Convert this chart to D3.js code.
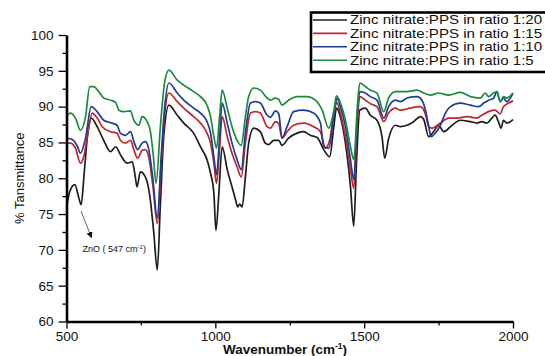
<!DOCTYPE html>
<html>
<head>
<meta charset="utf-8">
<script src="https://cdn.jsdelivr.net/npm/d3@7"></script>
<style>
  body { margin: 0; background: #fff; }
  svg text { font-family: "Liberation Sans", Arial, sans-serif; fill: #111; }
</style>
</head>
<body>
<div id="chart"></div>
<script>
// ---- data ----
const seriesNames = [
  "Zinc nitrate:PPS in ratio 1:20",
  "Zinc nitrate:PPS in ratio 1:15",
  "Zinc nitrate:PPS in ratio 1:10",
  "Zinc nitrate:PPS in ratio 1:5"
];
const seriesColors = ["#1e1e1e", "#c0262c", "#1f3c96", "#1b8a3c"];

// 1:20 (black)
const wn20 = [500, 510, 528, 540, 549, 560, 572, 583, 603, 625, 648, 665, 681, 704, 721, 730, 737, 748, 765, 780, 793, 805, 815, 827, 844, 872, 894, 927, 950, 972, 984, 995, 1002, 1012, 1023, 1040, 1056, 1068, 1075, 1082, 1090, 1101, 1112, 1129, 1151, 1168, 1179, 1196, 1213, 1224, 1246, 1275, 1297, 1319, 1342, 1364, 1384, 1398, 1407, 1420, 1437, 1454, 1465, 1474, 1485, 1504, 1521, 1543, 1560, 1569, 1582, 1605, 1622, 1644, 1666, 1689, 1700, 1717, 1733, 1750, 1767, 1790, 1823, 1857, 1879, 1895, 1912, 1929, 1940, 1951, 1960, 1968, 1979, 2000];
const t20 = [75.8, 78.0, 79.1, 77.5, 76.3, 81.0, 86.5, 88.4, 87.2, 85.3, 83.7, 84.4, 83.3, 82.1, 82.3, 80.5, 78.8, 80.9, 80.2, 77.5, 72.5, 67.2, 76.0, 86.0, 90.2, 88.8, 87.7, 86.3, 84.4, 82.6, 80.7, 78.0, 72.7, 78.0, 84.4, 81.2, 78.8, 77.0, 76.0, 76.4, 76.0, 80.2, 84.9, 87.0, 86.5, 84.9, 84.7, 85.3, 85.3, 84.6, 85.6, 86.3, 86.5, 86.0, 85.7, 84.0, 83.0, 87.2, 89.8, 88.6, 84.9, 78.8, 73.3, 82.0, 89.5, 89.8, 88.8, 88.1, 85.8, 82.8, 85.5, 87.4, 87.2, 87.4, 87.9, 88.6, 88.2, 85.8, 86.5, 87.4, 86.5, 87.2, 88.1, 87.9, 87.7, 87.9, 87.7, 88.4, 88.8, 87.9, 87.0, 88.1, 87.7, 88.2];

// 1:15 (red)
const wn15 = [500, 513, 530, 547, 558, 570, 586, 603, 620, 648, 670, 681, 698, 715, 726, 739, 754, 765, 776, 790, 805, 818, 830, 844, 872, 894, 927, 950, 972, 984, 995, 1004, 1014, 1023, 1040, 1056, 1073, 1087, 1101, 1118, 1135, 1151, 1174, 1185, 1202, 1213, 1224, 1241, 1263, 1297, 1330, 1353, 1370, 1384, 1398, 1407, 1420, 1437, 1454, 1465, 1476, 1485, 1504, 1521, 1543, 1566, 1582, 1605, 1622, 1655, 1689, 1706, 1717, 1728, 1756, 1784, 1812, 1846, 1879, 1895, 1918, 1940, 1957, 1968, 1985, 2000];
const t15 = [84.9, 84.9, 84.2, 82.1, 83.0, 85.8, 89.1, 88.4, 87.2, 86.5, 86.3, 85.3, 84.9, 85.3, 84.0, 82.8, 83.9, 84.0, 83.0, 79.0, 73.7, 82.0, 89.0, 91.9, 90.7, 89.8, 88.6, 87.7, 86.3, 84.9, 82.1, 79.3, 84.0, 88.6, 85.8, 83.5, 81.6, 80.2, 84.9, 89.1, 89.3, 89.1, 87.2, 87.0, 87.9, 87.6, 85.6, 86.5, 87.4, 87.7, 87.2, 86.5, 84.2, 85.3, 89.1, 90.6, 89.1, 85.8, 81.2, 78.6, 87.2, 91.4, 90.9, 90.4, 90.0, 87.9, 89.1, 89.8, 89.5, 89.8, 90.0, 88.9, 87.2, 87.0, 87.7, 88.4, 88.4, 88.6, 88.4, 88.8, 89.3, 89.5, 89.0, 90.0, 90.5, 90.8];

// 1:10 (blue)
const wn10 = [500, 519, 536, 547, 564, 583, 603, 625, 653, 670, 681, 698, 715, 728, 739, 754, 765, 776, 790, 805, 818, 830, 844, 872, 894, 927, 950, 972, 984, 995, 1004, 1014, 1023, 1040, 1056, 1073, 1087, 1101, 1118, 1135, 1151, 1174, 1185, 1202, 1213, 1224, 1241, 1263, 1297, 1330, 1353, 1364, 1381, 1398, 1409, 1420, 1437, 1454, 1465, 1478, 1485, 1504, 1521, 1543, 1566, 1582, 1605, 1622, 1644, 1678, 1694, 1706, 1717, 1725, 1739, 1756, 1773, 1790, 1823, 1857, 1885, 1902, 1918, 1935, 1946, 1957, 1968, 1979, 2000];
const t10 = [85.6, 85.4, 84.5, 83.5, 85.6, 90.0, 89.3, 88.1, 87.7, 87.4, 86.3, 86.0, 86.5, 84.9, 84.0, 84.9, 85.1, 84.1, 80.0, 74.4, 83.0, 90.0, 93.3, 91.9, 90.9, 89.8, 89.1, 87.9, 86.3, 83.0, 80.5, 85.5, 90.5, 87.7, 84.9, 82.6, 81.2, 86.3, 90.5, 90.7, 90.5, 88.8, 88.5, 89.4, 89.0, 85.6, 87.2, 89.3, 89.5, 89.1, 87.7, 84.4, 84.2, 88.6, 91.2, 90.0, 87.2, 82.6, 79.8, 89.5, 92.1, 91.9, 91.4, 90.9, 88.4, 90.0, 90.9, 90.7, 91.2, 91.4, 90.9, 89.5, 87.2, 85.8, 86.3, 87.4, 89.1, 90.0, 90.5, 90.2, 90.0, 90.5, 90.9, 91.2, 92.1, 90.7, 91.2, 90.7, 91.9];

// 1:5 (green)
const wn5 = [500, 513, 530, 547, 564, 578, 592, 608, 625, 648, 665, 676, 692, 715, 726, 743, 754, 771, 782, 792, 801, 815, 830, 844, 872, 894, 927, 950, 972, 984, 995, 1004, 1014, 1023, 1040, 1056, 1073, 1087, 1101, 1112, 1129, 1151, 1174, 1185, 1202, 1213, 1224, 1246, 1275, 1308, 1336, 1359, 1381, 1398, 1407, 1420, 1437, 1454, 1465, 1478, 1485, 1504, 1521, 1543, 1566, 1582, 1605, 1644, 1678, 1700, 1722, 1750, 1784, 1823, 1857, 1890, 1907, 1918, 1935, 1946, 1957, 1968, 1979, 2000];
const t5 = [88.6, 89.1, 88.4, 86.7, 88.6, 92.8, 92.8, 92.1, 91.2, 90.9, 90.6, 89.5, 89.3, 89.4, 88.1, 87.4, 88.6, 87.9, 86.5, 83.0, 79.3, 87.0, 93.5, 95.1, 93.7, 93.0, 92.1, 91.4, 90.2, 88.6, 85.8, 84.2, 88.5, 92.3, 89.8, 87.2, 85.3, 84.6, 88.6, 91.4, 92.6, 92.3, 91.2, 90.9, 91.2, 91.0, 90.2, 90.9, 91.4, 91.4, 90.9, 89.5, 87.0, 89.4, 91.5, 90.5, 88.1, 84.4, 82.6, 90.5, 93.3, 92.8, 92.3, 91.9, 89.3, 91.2, 92.1, 92.1, 92.3, 91.9, 91.6, 91.9, 91.6, 92.0, 91.4, 91.2, 91.9, 91.4, 91.9, 92.1, 90.7, 91.4, 91.2, 91.9];

const xTicks = [500, 1000, 1500, 2000];
const xMinor = [750, 1250, 1750];
const yTicks = [60, 65, 70, 75, 80, 85, 90, 95, 100];
const yMinor = [62.5, 67.5, 72.5, 77.5, 82.5, 87.5, 92.5, 97.5];

// annotation: arrow from the 547 dip down to the label
const noteFrom = [549, 75.4];
const noteTo = [584, 71.7];
const noteAt = [554, 69.7];

// ---- drawing ----
const W = 545, H = 356;
const margin = { top: 35, right: 32, bottom: 34.5, left: 66.5 };

const svg = d3.select("#chart").append("svg")
  .attr("width", W)
  .attr("height", H);

const x = d3.scaleLinear().domain([500, 2000]).range([margin.left, W - margin.right]);
const y = d3.scaleLinear().domain([60, 100]).range([H - margin.bottom, margin.top]);

const data = [
  wn20.map((w, i) => [w, t20[i]]),
  wn15.map((w, i) => [w, t15[i]]),
  wn10.map((w, i) => [w, t10[i]]),
  wn5.map((w, i) => [w, t5[i]])
];

const line = d3.line()
  .x(d => x(d[0]))
  .y(d => y(d[1]))
  .curve(d3.curveMonotoneX);

svg.append("g")
  .selectAll("path")
  .data(data)
  .enter()
  .append("path")
  .attr("d", line)
  .attr("fill", "none")
  .attr("stroke", (d, i) => seriesColors[i])
  .attr("stroke-width", 1.7)
  .attr("stroke-linejoin", "round");

// axes
svg.append("g")
  .attr("transform", `translate(0,${y(60)})`)
  .call(d3.axisBottom(x).tickValues(xTicks).tickFormat(d3.format("d"))
    .tickSize(7).tickSizeOuter(0).tickPadding(3));
svg.append("g")
  .attr("transform", `translate(0,${y(60)})`)
  .call(d3.axisBottom(x).tickValues(xMinor).tickSize(4).tickFormat(""))
  .select(".domain").remove();

svg.append("g")
  .attr("transform", `translate(${x(500)},0)`)
  .call(d3.axisLeft(y).tickValues(yTicks).tickSize(8).tickSizeOuter(0).tickPadding(5));
svg.append("g")
  .attr("transform", `translate(${x(500)},0)`)
  .call(d3.axisLeft(y).tickValues(yMinor).tickSize(4).tickFormat(""))
  .select(".domain").remove();

svg.selectAll(".domain").attr("stroke", "#000").attr("stroke-width", 2.6);
svg.selectAll(".tick line").attr("stroke", "#000").attr("stroke-width", 1.3);
svg.selectAll(".tick text")
  .style("font-size", "13.5px")
  .style("font-family", "'Liberation Sans', Arial, sans-serif")
  .attr("fill", "#111");

// axis titles
svg.append("text")
  .attr("transform", `translate(24,${(y(60) + y(100)) / 2}) rotate(-90)`)
  .attr("text-anchor", "middle")
  .style("font-size", "13px")
  .text("% Tansmittance");

const xt = svg.append("text")
  .attr("x", 285)
  .attr("y", 354)
  .attr("text-anchor", "middle")
  .style("font-size", "13.5px")
  .style("font-weight", "bold");
xt.append("tspan").text("Wavenumber (cm");
xt.append("tspan").attr("dy", -5).style("font-size", "8.5px").text("-1");
xt.append("tspan").attr("dy", 5).text(")");

// annotation
svg.append("defs").append("marker")
  .attr("id", "arr")
  .attr("viewBox", "0 0 10 10")
  .attr("refX", 9).attr("refY", 5)
  .attr("markerWidth", 7).attr("markerHeight", 7)
  .attr("orient", "auto")
  .append("path")
  .attr("d", "M0,0L10,5L0,10z")
  .attr("fill", "#111");

svg.append("line")
  .attr("x1", x(noteFrom[0])).attr("y1", y(noteFrom[1]))
  .attr("x2", x(noteTo[0])).attr("y2", y(noteTo[1]))
  .attr("stroke", "#555")
  .attr("stroke-width", 0.9)
  .attr("marker-end", "url(#arr)");

const note = svg.append("text")
  .attr("x", x(noteAt[0]))
  .attr("y", y(noteAt[1]))
  .style("font-size", "9px");
note.append("tspan").text("ZnO ( 547 cm");
note.append("tspan").attr("dy", -3).style("font-size", "6px").text("-1");
note.append("tspan").attr("dy", 3).text(")");

// legend
const lg = svg.append("g");
lg.append("rect")
  .attr("x", 311).attr("y", 12.5)
  .attr("width", 250).attr("height", 59.5)
  .attr("fill", "#fff")
  .attr("stroke", "#000")
  .attr("stroke-width", 2.6);

const rows = lg.selectAll("g.row")
  .data(seriesNames)
  .enter()
  .append("g")
  .attr("class", "row")
  .attr("transform", (d, i) => `translate(0,${20 + i * 13.4})`);

rows.append("line")
  .attr("x1", 313).attr("x2", 347)
  .attr("stroke", (d, i) => seriesColors[i])
  .attr("stroke-width", 1.6);

// text is drawn a bit wide, like the stretched reference
rows.append("text")
  .attr("transform", "translate(350,0) scale(1.26,1)")
  .attr("dy", "0.36em")
  .style("font-size", "12px")
  .text(d => d);
</script>
</body>
</html>
